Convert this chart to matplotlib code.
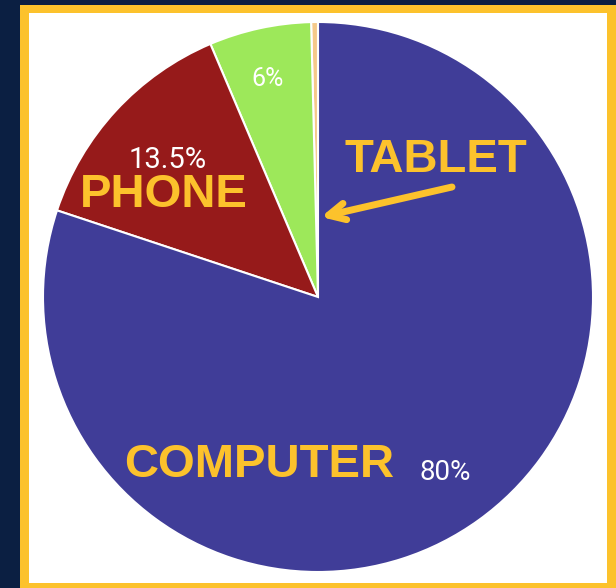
import matplotlib
matplotlib.use("Agg")
import matplotlib.pyplot as plt
from matplotlib.patches import Rectangle

# data (counter-clockwise from the top)
labels = ['OTHER', 'TABLET', 'PHONE', 'COMPUTER']
shares = [0.4, 6, 13.5, 80.1]
colors = ['#f5c98a', '#9de85a', '#961a1a', '#403d98']

navy = '#0b1f42'
yellow = '#fcc22c'

fig = plt.figure(figsize=(6.16, 5.88), dpi=100)
fig.patch.set_facecolor(navy)

ax = fig.add_axes([0, 0, 1, 1])

# yellow frame + white card
ax.add_patch(Rectangle((20, 0), 596, 583, facecolor=yellow, edgecolor='none', zorder=0))
ax.add_patch(Rectangle((29, 5), 578, 570, facecolor='white', edgecolor='none', zorder=0))

wedges, _ = ax.pie(shares, colors=colors, startangle=90, counterclock=True,
                   center=(318, 291), radius=275, frame=True,
                   wedgeprops=dict(edgecolor='white', linewidth=1.5))
ax.set_xlim(0, 616)
ax.set_ylim(0, 588)
ax.set_aspect('equal')
ax.axis('off')

def Y(y):
    return 588 - y

# percentage labels
ax.text(268, Y(79), '6%', color='white', fontsize=18, family='Roboto',
        ha='center', va='center')
ax.text(168, Y(160), '13.5%', color='white', fontsize=21, family='Roboto',
        ha='center', va='center')
ax.text(445, Y(472), '80%', color='white', fontsize=20, family='Roboto',
        ha='center', va='center')

# category labels
bold = dict(color=yellow, fontsize=34, fontweight='bold', family='Liberation Sans',
            ha='center', va='center')
ax.text(164, Y(195), 'PHONE', **bold)
ax.text(436, Y(160), 'TABLET', **bold)
ax.text(259, Y(465), 'COMPUTER', **bold)

# arrow to the tablet slice
ax.annotate('', xy=(321, Y(217)), xytext=(452, Y(187)),
            arrowprops=dict(arrowstyle='->,head_length=1.2,head_width=0.6',
                            color=yellow, lw=5, capstyle='round',
                            shrinkA=0, shrinkB=0))

plt.savefig('out.png', dpi=100, facecolor=navy)
